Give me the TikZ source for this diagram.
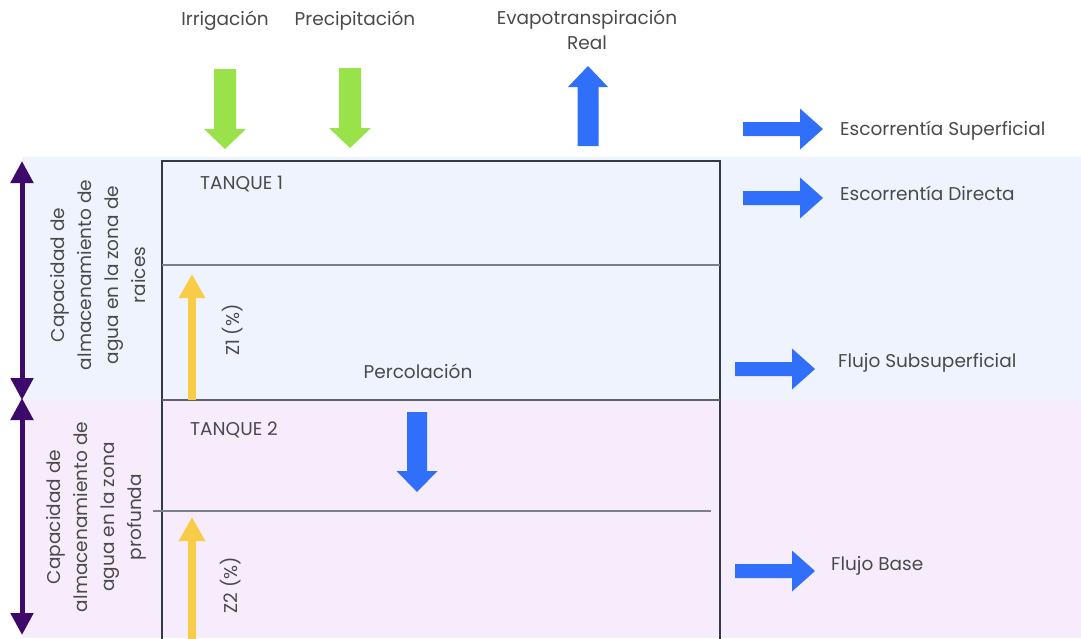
\documentclass[tikz,border=0pt]{standalone}
\usepackage{fontspec}
\setmainfont{Poppins}
\usetikzlibrary{arrows.meta}
\definecolor{bandblue}{HTML}{EEF3FD}
\definecolor{bandpink}{HTML}{F7ECFC}
\definecolor{boxline}{HTML}{333A45}
\definecolor{thinline}{HTML}{7A7F8A}
\definecolor{txt}{HTML}{4A4A4A}
\definecolor{agreen}{HTML}{99E24A}
\definecolor{ablue}{HTML}{2F6FF9}
\definecolor{apurple}{HTML}{3D0A6B}
\definecolor{ayellow}{HTML}{F9CC48}
\tikzset{
  lbl/.style={font=\fontsize{18.5}{22}\selectfont, text=txt, inner sep=0pt},
  sidelbl/.style={font=\fontsize{18.5}{27}\selectfont, text=txt, align=center, rotate=90, inner sep=0pt},
  pics/blk/.style n args={4}{code={
    \fill[#4] (0,-#1/2) -- (80-#3,-#1/2) -- (80-#3,-#2/2) -- (80,0) -- (80-#3,#2/2) -- (80-#3,#1/2) -- (0,#1/2) -- cycle;
  }},
  purplearrow/.style={draw=apurple, line width=5pt, {Triangle[width=22pt,length=22pt]}-{Triangle[width=22pt,length=22pt]}, fill=apurple},
  yellowarrow/.style={draw=ayellow, line width=8pt, -{Triangle[width=25pt,length=24pt]}, fill=ayellow},
}
\begin{document}
\begin{tikzpicture}[x=1pt,y=-1pt]
\useasboundingbox (0,0) rectangle (1081,638);
% bands
\fill[bandblue] (22,157) rectangle (1081,400);
\fill[bandpink] (22,400) rectangle (1081,638);
% tank box
\draw[boxline, line width=1.6pt] (162,645) -- (162,161) -- (720,161) -- (720,645);
\draw[thinline, line width=1.1pt] (162,265) -- (720,265);
\draw[boxline!80, line width=1.1pt] (162,400) -- (720,400);
\draw[thinline, line width=1.1pt] (153,511) -- (711,511);
% purple double arrows
\coordinate (pa1) at (22,161);
\coordinate (pb1) at (22,400);
\coordinate (pa2) at (22,398);
\coordinate (pb2) at (22,635);
\draw[purplearrow] (pa1) -- (pb1);
\draw[purplearrow] (pa2) -- (pb2);
% side labels
\node[sidelbl] (cap1) at (98,275) {Capacidad de\\almacenamiento de\\agua en la zona de\\raices};
\node[sidelbl] (cap2) at (96,517) {Capacidad de\\almacenamiento de\\agua en la zona\\profunda};
% top labels
\node[lbl] (irr) at (225,21) {Irrigación};
\node[lbl] (pre) at (355,21) {Precipitación};
\node[lbl, align=center, font=\fontsize{18.5}{25}\selectfont] (eva) at (587,30) {Evapotranspiración\\Real};
% top arrows
\pic[rotate=-90] at (225,69) {blk={22}{42}{20}{agreen}};
\pic[rotate=-90] at (350,68) {blk={22}{42}{20}{agreen}};
\pic[rotate=90] at (588,146) {blk={21}{40}{21}{ablue}};
% right arrows and labels
\pic at (743,129) {blk={14}{41}{23}{ablue}};
\node[lbl, anchor=west] (esup) at (840,131) {Escorrentía Superficial};
\pic at (743,198) {blk={14}{41}{23}{ablue}};
\node[lbl, anchor=west] (edir) at (840,193) {Escorrentía Directa};
\pic at (735,369) {blk={14}{41}{23}{ablue}};
\node[lbl, anchor=west] (fsub) at (838,363) {Flujo Subsuperficial};
\pic at (735,571) {blk={14}{41}{23}{ablue}};
\node[lbl, anchor=west] (fbase) at (831,566) {Flujo Base};
% tank labels
\node[lbl, anchor=west] (t1) at (200,184) {TANQUE 1};
\node[lbl, anchor=west] (t2) at (190,430) {TANQUE 2};
\node[lbl] (perc) at (418,371) {Percolación};
\pic[rotate=-90] at (417,412) {blk={20}{41}{21}{ablue}};
% yellow arrows
\coordinate (y1a) at (192,400);
\coordinate (y1b) at (192,274);
\coordinate (y2a) at (192,640);
\coordinate (y2b) at (192,517);
\draw[yellowarrow] (y1a) -- (y1b);
\draw[yellowarrow] (y2a) -- (y2b);
\node[lbl, rotate=90] (z1) at (233,330) {Z1 (\%)};
\node[lbl, rotate=90] (z2) at (231,585) {Z2 (\%)};
\end{tikzpicture}
\end{document}
